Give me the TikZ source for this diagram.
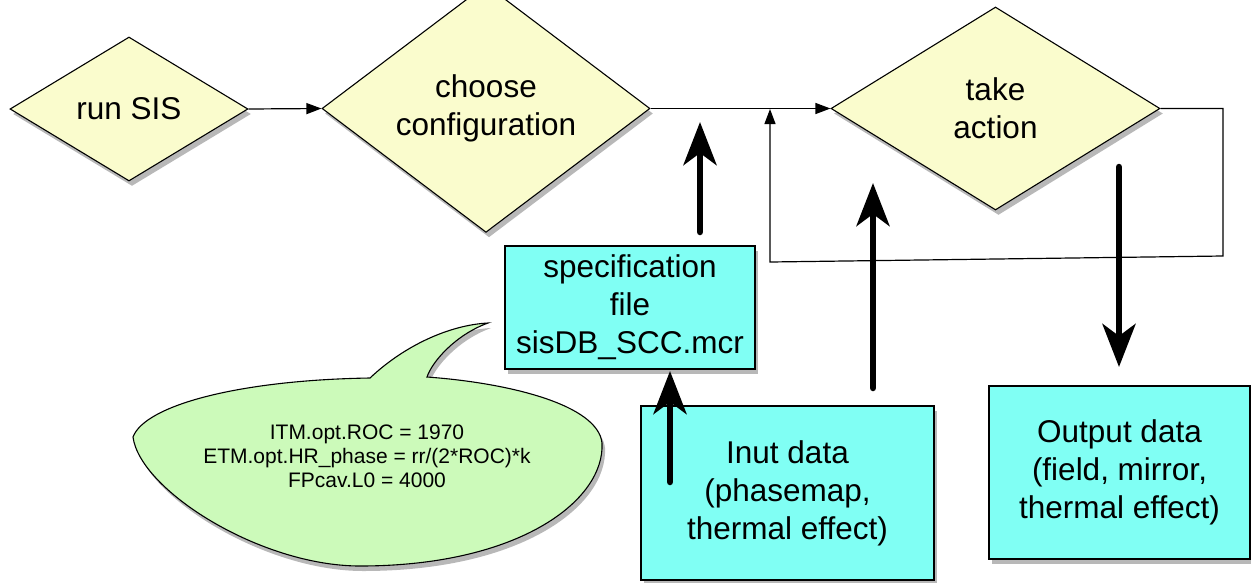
\documentclass[tikz,border=0pt]{standalone}
\usepackage{fontspec}
\setmainfont{Liberation Sans}
\usetikzlibrary{shapes.geometric,arrows.meta,shadows}
\definecolor{dfill}{RGB}{250,252,205}
\definecolor{bfill}{RGB}{128,255,244}
\definecolor{gfill}{RGB}{204,250,186}
\begin{document}
\begin{tikzpicture}[x=1pt,y=-1pt,
  softshadow/.style={drop shadow={shadow xshift=3pt,shadow yshift=-5pt,opacity=.28,fill=black}},
  decision/.style={diamond,draw=black,line width=1.1pt,fill=dfill,inner sep=0pt,softshadow,align=center,font=\fontsize{31.5}{38}\selectfont},
  databox/.style={rectangle,draw=black,line width=1.1pt,fill=bfill,inner sep=0pt,softshadow,align=center,font=\fontsize{31.5}{38}\selectfont},
  bubble/.style={draw=black,line width=1.1pt,fill=gfill,softshadow},
  thinarrow/.style={draw=black,line width=1.2pt,-{Triangle[length=15pt,width=11pt]}},
  thickarrow/.style={draw=black,line width=6.5pt,line cap=round,-{Stealth[length=43pt,width=33pt,inset=12pt]}},
]
\useasboundingbox (0,0) rectangle (1251,582);

% decisions
\node[decision,minimum width=238pt,minimum height=144pt] (run) at (129,109) {run SIS};
\node[decision,minimum width=328pt,minimum height=203pt] (choose) at (486,108.5) {choose\\configuration};
\node[decision,minimum width=329pt,minimum height=203pt] (take) at (995.5,108.5) {take\\action};

% data boxes
\node[databox,minimum width=250pt,minimum height=123pt] (spec) at (630,307.5) {specification\\file\\sisDB\_SCC.mcr};
\node[databox,minimum width=293pt,minimum height=174pt] (input) at (787.5,493) {Inut data\\(phasemap,\\thermal effect)};
\node[databox,minimum width=261pt,minimum height=173pt] (output) at (1119.5,472.5) {Output data\\(field, mirror,\\thermal effect)};

% speech bubble
\draw[bubble] (133,437) .. controls (145,405) and (240,380) .. (370,378)
  .. controls (405,345) and (450,325) .. (488,323)
  .. controls (455,335) and (432,362) .. (427,377)
  .. controls (510,383) and (598,405) .. (602,443)
  .. controls (605,500) and (520,566) .. (360,566)
  .. controls (260,566) and (140,490) .. (133,437) -- cycle;
\node[font=\fontsize{21}{24}\selectfont,align=center] (code) at (367,456.5)
  {ITM.opt.ROC = 1970\\ETM.opt.HR\_phase = rr/(2*ROC)*k\\FPcav.L0 = 4000};

% thin connectors
\draw[thinarrow] (run.east) -- (choose.west);
\draw[thinarrow] (choose.east) -- (take.west);
\coordinate (fbA) at (1223,108.5);
\coordinate (fbB) at (1223,256);
\coordinate (fbC) at (770,262);
\coordinate (fbD) at (770,109);
\draw[thinarrow] (take.east) -- (fbA) -- (fbB) -- (fbC) -- (fbD);

% thick arrows
\coordinate (a1s) at (700,232); \coordinate (a1e) at (700,122);
\coordinate (a2s) at (873,388); \coordinate (a2e) at (873,183);
\coordinate (a3s) at (1119,167); \coordinate (a3e) at (1119,367);
\coordinate (a4s) at (670,482); \coordinate (a4e) at (670,371);
\draw[thickarrow] (a1s) -- (a1e);
\draw[thickarrow] (a2s) -- (a2e);
\draw[thickarrow] (a3s) -- (a3e);
\draw[thickarrow] (a4s) -- (a4e);
\end{tikzpicture}
\end{document}
